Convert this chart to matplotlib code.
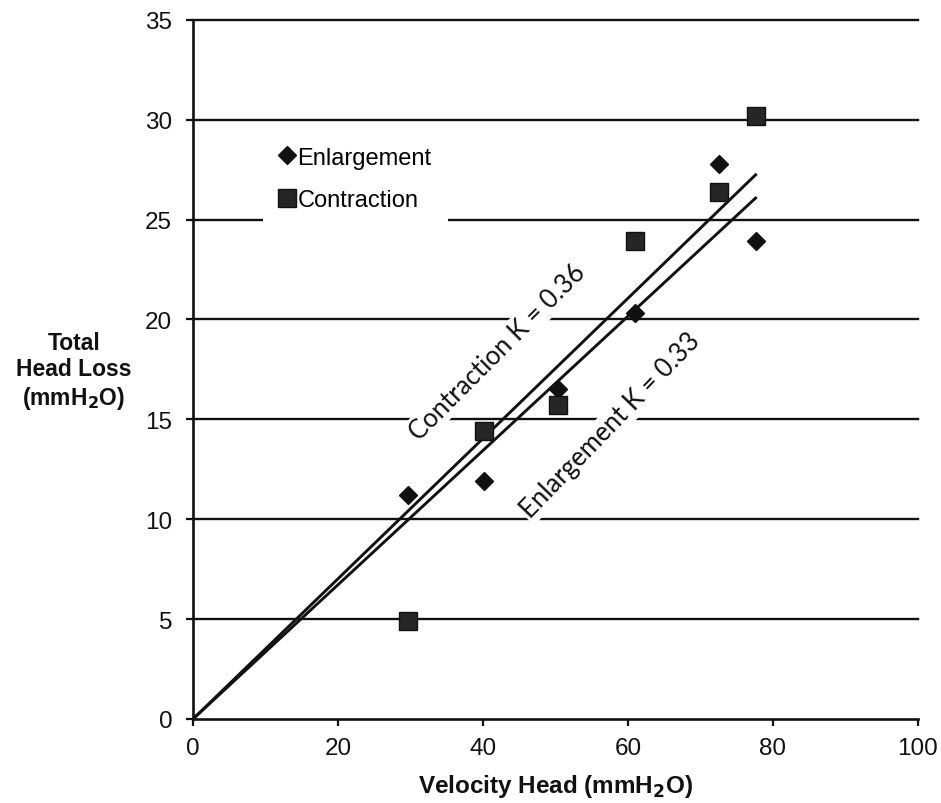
"""Total head loss vs velocity head for a sudden enlargement / contraction."""
import numpy as np
import matplotlib
matplotlib.use("Agg")
import matplotlib.pyplot as plt

velocity_head = [29.7, 40.1, 50.4, 61.0, 72.5, 77.6]
loss_enlargement = [11.2, 11.9, 16.5, 20.3, 27.8, 23.9]
loss_contraction = [4.9, 14.4, 15.7, 23.9, 26.4, 30.2]

# drawn fit lines through the origin (slope in loss per velocity head)
fit_slope_contraction = 0.351
fit_slope_enlargement = 0.336
fit_label_contraction = "Contraction K = 0.36"
fit_label_enlargement = "Enlargement K = 0.33"

x_ticks = [0, 20, 40, 60, 80, 100]
y_ticks = [0, 5, 10, 15, 20, 25, 30, 35]

plt.rcParams["font.family"] = ["Liberation Sans", "DejaVu Sans"]
INK = "#111111"

fig = plt.figure(figsize=(9.41, 8.04), dpi=100)
ax = fig.add_axes([193 / 941, 1 - 720 / 804, 725 / 941, 699.3 / 804])

ax.set_xlim(0, 100)
ax.set_ylim(0, 35)
ax.set_xticks(x_ticks)
ax.set_yticks(y_ticks)
ax.tick_params(axis="both", labelsize=17.5, color=INK, width=1.6, length=5,
               direction="out", labelcolor=INK)
ax.tick_params(axis="x", pad=8)
ax.tick_params(axis="y", pad=10)

for side in ("top", "right"):
    ax.spines[side].set_visible(False)
for side in ("left", "bottom"):
    ax.spines[side].set_color(INK)
    ax.spines[side].set_linewidth(1.9)
ax.spines["bottom"].set_zorder(1)

# gridlines behind everything, text boxes cut through them
for yv in y_ticks[1:]:
    ax.axhline(yv, color=INK, lw=1.7, zorder=0.5, clip_on=False)

xs = np.array([0, max(velocity_head)])
ax.plot(xs, fit_slope_contraction * xs, color=INK, lw=2.1, zorder=3)
ax.plot(xs, fit_slope_enlargement * xs, color=INK, lw=2.1, zorder=3)

ax.plot(velocity_head, loss_enlargement, ls="none", marker="D", ms=9,
        color=INK, mec=INK, label="Enlargement", zorder=4)
ax.plot(velocity_head, loss_contraction, ls="none", marker="s", ms=12.5,
        color="#262626", mec=INK, label="Contraction", zorder=4)

box = dict(facecolor="white", edgecolor="none", pad=1.5)
ax.text(42.0, 18.4, fit_label_contraction, rotation=45, rotation_mode="anchor",
        ha="center", va="center", fontsize=18.5, family=["Lato", "DejaVu Sans"],
        color=INK, bbox=box, zorder=2)
ax.text(57.6, 14.7, fit_label_enlargement, rotation=46, rotation_mode="anchor",
        ha="center", va="center", fontsize=18.5, family=["Lato", "DejaVu Sans"],
        color=INK, bbox=box, zorder=2)

leg = ax.legend(loc="upper left", bbox_to_anchor=(0.097, 0.842), fontsize=17,
                frameon=True, fancybox=False, borderpad=0.7, handlelength=0.6,
                handletextpad=0.15, labelspacing=0.85, borderaxespad=0)
leg.get_frame().set_facecolor("white")
leg.get_frame().set_edgecolor("none")
leg.get_frame().set_alpha(1)
leg.set_zorder(2)

ax.set_xlabel("Velocity Head (mmH$_\\mathbf{2}$O)", fontsize=17.5,
              fontweight="bold", color=INK, labelpad=9)
fig.text(74 / 941, 1 - 372 / 804, "Total\nHead Loss\n(mmH$_\\mathbf{2}$O)",
         ha="center", va="center", ma="center", fontsize=16.5,
         fontweight="bold", color=INK, linespacing=1.2)

fig.savefig("out.png", dpi=100, facecolor="white")
